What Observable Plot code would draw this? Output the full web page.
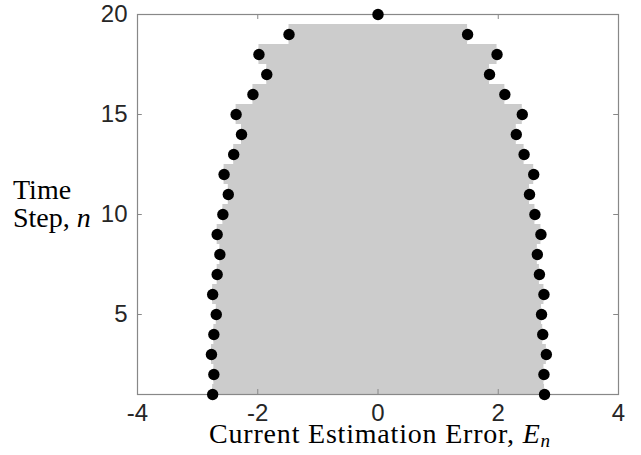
<!DOCTYPE html>
<html>
<head>
<meta charset="utf-8">
<script src="https://cdn.jsdelivr.net/npm/d3@7"></script>
<script src="https://cdn.jsdelivr.net/npm/@observablehq/plot@0.6"></script>
<style>
  body { margin: 0; background: #fff; }
  #chart { position: relative; width: 641px; height: 455px; }
</style>
</head>
<body>
<div id="chart"></div>
<script>
// Time steps
const steps = [1,2,3,4,5,6,7,8,9,10,11,12,13,14,15,16,17,18,19,20];
// Current estimation error at each step (negative and positive sides)
const errLeft  = [-2.75,-2.73,-2.77,-2.73,-2.69,-2.75,-2.675,-2.63,-2.675,-2.58,-2.49,-2.56,-2.40,-2.27,-2.36,-2.08,-1.85,-1.98,-1.48,0];
const errRight = [2.77,2.76,2.80,2.74,2.72,2.76,2.685,2.65,2.71,2.61,2.52,2.59,2.43,2.30,2.40,2.11,1.855,1.98,1.49,0];
const xTicks = [-4,-2,0,2,4];
const yTicks = [5,10,15,20];

const rows = steps.map((n, i) => ({n, lo: errLeft[i], hi: errRight[i]}));
const pts = rows.flatMap(d => d.hi === 0 && d.lo === 0 ? [{n: d.n, e: 0}] : [{n: d.n, e: d.lo}, {n: d.n, e: d.hi}]);

const frameColor = "#888888";
const textColor = "#262626";

const plot = Plot.plot({
  width: 641,
  height: 455,
  marginLeft: 137,
  marginRight: 23,
  marginTop: 14,
  marginBottom: 61,
  style: {fontFamily: "'Liberation Sans', Arial, sans-serif", fontSize: "24px", color: textColor, background: "#fff", overflow: "visible"},
  x: {domain: [-4, 4], label: null},
  y: {domain: [1, 20], label: null},
  marks: [
    Plot.rect(rows, {y1: d => d.n - 0.5, y2: d => d.n + 0.5, x1: "lo", x2: "hi", fill: "#cccccc", clip: true}),
    // inward ticks on all four sides
    Plot.ruleX(xTicks, {x: d => d, y1: 1, y2: 1.25, stroke: frameColor}),
    Plot.ruleX(xTicks, {x: d => d, y1: 20, y2: 19.75, stroke: frameColor}),
    Plot.ruleY(yTicks, {y: d => d, x1: -4, x2: -3.92, stroke: frameColor}),
    Plot.ruleY(yTicks, {y: d => d, x1: 4, x2: 3.92, stroke: frameColor}),
    Plot.frame({stroke: frameColor, strokeWidth: 1.2}),
    Plot.dot(pts, {x: "e", y: "n", r: 5.7, fill: "black"}),
    Plot.axisX(xTicks, {tickSize: 0, tickPadding: 9, tickFormat: d => d < 0 ? "-" + Math.abs(d) : String(d), fill: textColor, label: null}),
    Plot.axisY(yTicks, {tickSize: 0, tickPadding: 10, fill: textColor, label: null})
  ]
});

const svg = d3.select(plot);
const serif = "'Liberation Serif', 'Times New Roman', serif";
// y label (two lines)
const yl = svg.append("g").attr("font-family", serif).attr("font-size", 28).attr("fill", "#000").attr("text-anchor", "start");
yl.append("text").attr("x", 13).attr("y", 199).text("Time");
const t2 = yl.append("text").attr("x", 13).attr("y", 227);
t2.append("tspan").text("Step, ");
t2.append("tspan").attr("font-style", "italic").text("n");
// x label
const xl = svg.append("text").attr("font-family", serif).attr("font-size", 28).attr("fill", "#000")
  .attr("x", 380).attr("y", 443).attr("text-anchor", "middle").attr("letter-spacing", 0.8);
xl.append("tspan").text("Current Estimation Error, ");
xl.append("tspan").attr("font-style", "italic").text("E");
xl.append("tspan").attr("font-style", "italic").attr("font-size", 19).attr("dy", 4).text("n");

document.getElementById("chart").appendChild(plot);
</script>
</body>
</html>
